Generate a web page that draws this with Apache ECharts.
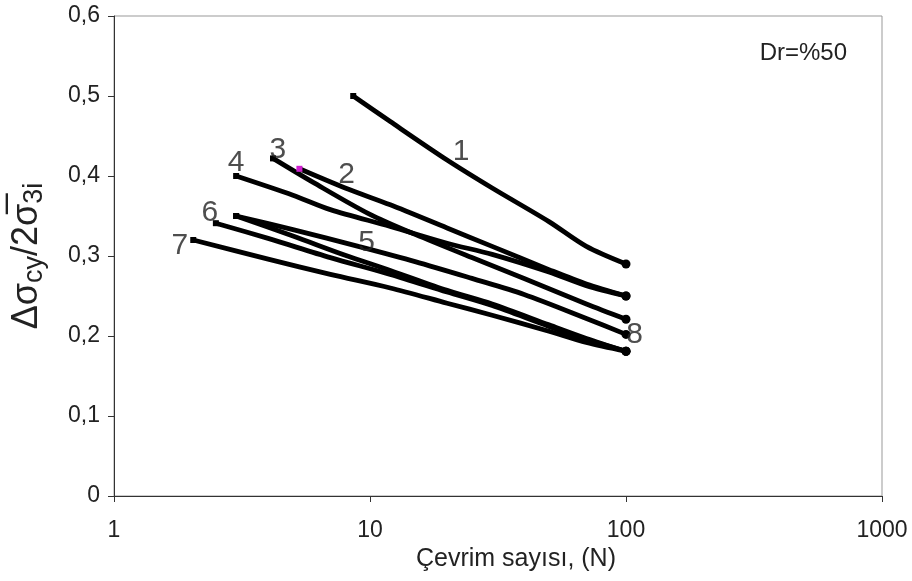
<!DOCTYPE html>
<html>
<head>
<meta charset="utf-8">
<script src="https://cdn.jsdelivr.net/npm/echarts@6/dist/echarts.min.js"></script>
<style>
  html, body { margin: 0; padding: 0; background: #fff; }
  #chart { width: 912px; height: 581px; }
</style>
</head>
<body>
<div id="chart"></div>
<script>
// Cyclic stress ratio vs. number of cycles, Dr = %50
const xTickLabels = ['1', '10', '100', '1000'];
const yTickLabels = ['0', '0,1', '0,2', '0,3', '0,4', '0,5', '0,6'];

// [N, Δσcy/2σ'3i] for each test curve
const curve1 = [[8.6, 0.500], [12, 0.468], [20, 0.420], [30, 0.385], [50, 0.343], [70, 0.312], [100, 0.290]];
const curve2 = [[5.3, 0.409], [8, 0.385], [12, 0.364], [20, 0.335], [30, 0.312], [50, 0.283], [70, 0.265], [100, 0.250]];
const curve3 = [[4.18, 0.422], [6, 0.392], [10, 0.352], [15, 0.327], [25, 0.298], [40, 0.272], [70, 0.240], [100, 0.221]];
const curve4 = [[3.0, 0.400], [5, 0.376], [7, 0.358], [12, 0.337], [20, 0.316], [30, 0.302], [50, 0.280], [70, 0.263], [100, 0.250]];
const curve5 = [[3.0, 0.350], [5, 0.333], [9, 0.312], [15, 0.293], [25, 0.272], [40, 0.252], [70, 0.222], [100, 0.202]];
const curve6 = [[2.5, 0.341], [4, 0.322], [7, 0.298], [12, 0.277], [20, 0.255], [30, 0.238], [50, 0.212], [70, 0.196], [100, 0.181]];
const curve7 = [[2.04, 0.320], [4, 0.296], [7, 0.277], [12, 0.260], [20, 0.241], [30, 0.226], [50, 0.206], [70, 0.192], [100, 0.181]];
const curve8 = [[3.0, 0.350], [5, 0.325], [8, 0.301], [12, 0.282], [20, 0.257], [30, 0.240], [50, 0.214], [70, 0.197], [100, 0.181]];
const curves = [curve1, curve2, curve3, curve4, curve5, curve6, curve7, curve8];

// Curve numbers and where they are written, in data units
const curveTags = ['1', '2', '3', '4', '5', '6', '7', '8'];
const curveTagAt = [[22.7, 0.430], [8.1, 0.401], [4.37, 0.4325], [3.0, 0.416], [9.7, 0.316], [2.37, 0.354], [1.81, 0.3125], [108, 0.201]];

const FONT = 'Liberation Sans, Arial, sans-serif';
const chart = echarts.init(document.getElementById('chart'), null, { renderer: 'canvas' });

function curveSeries(pts, i) {
  const data = pts.map((p, k) => {
    const item = { value: p };
    if (k === 0) {
      item.symbol = 'rect'; item.symbolSize = 6;
      // curve 2 begins with a magenta point marker
      if (i === 1) item.itemStyle = { color: '#d020d0' };
    } else if (k === pts.length - 1) {
      item.symbol = 'circle'; item.symbolSize = 9;
    } else {
      item.symbol = 'none';
    }
    return item;
  });
  return {
    type: 'line',
    name: 'curve' + (i + 1),
    data: data,
    symbol: 'none',
    showSymbol: true,
    smooth: 0.3,
    lineStyle: { color: '#000', width: 4.8, cap: 'round', join: 'round' },
    itemStyle: { color: '#000' },
    silent: true,
    z: 3
  };
}

const series = curves.map(curveSeries);
series.push({
  type: 'scatter',
  data: curveTagAt.map((p, i) => ({ value: p, name: curveTags[i] })),
  symbolSize: 0,
  silent: true,
  label: {
    show: true,
    position: 'inside',
    formatter: p => p.name,
    color: '#222',
    fontSize: 30,
    fontFamily: FONT
  },
  z: 5
});

chart.setOption({
  animation: false,
  backgroundColor: '#fff',
  title: {
    text: 'Dr=%50',
    right: 60,
    top: 36,
    textStyle: { fontSize: 24, fontWeight: 'normal', color: '#222', fontFamily: FONT }
  },
  grid: {
    left: 114, right: 30, top: 16, bottom: 85,
    show: true, borderColor: '#999', borderWidth: 1, backgroundColor: '#fff'
  },
  xAxis: {
    type: 'log',
    logBase: 10,
    min: 1,
    max: 1000,
    name: 'Çevrim sayısı, (N)',
    nameLocation: 'middle',
    nameGap: 50,
    nameTextStyle: { fontSize: 25, color: '#222', fontFamily: FONT, padding: [0, 0, 0, 36] },
    axisLine: { show: true, lineStyle: { color: '#333', width: 1 } },
    axisTick: { show: true, inside: false, length: 6, lineStyle: { color: '#333' } },
    minorTick: { show: false },
    splitLine: { show: false },
    axisLabel: {
      margin: 23,
      fontSize: 23,
      color: '#222',
      fontFamily: FONT,
      formatter: v => xTickLabels[Math.round(Math.log10(v))]
    }
  },
  yAxis: {
    type: 'value',
    min: 0,
    max: 0.6,
    interval: 0.1,
    name: '{m|Δσ}{s|cy}{m|/2σ̅}{s|3i}',
    nameLocation: 'middle',
    nameRotate: 90,
    nameGap: 66,
    nameTextStyle: {
      rich: {
        m: { fontSize: 36, color: '#222', fontFamily: FONT, lineHeight: 42, verticalAlign: 'middle' },
        s: { fontSize: 27, color: '#222', fontFamily: FONT, lineHeight: 42, verticalAlign: 'bottom', padding: [12, 0, 0, 0] }
      }
    },
    axisLine: { show: true, lineStyle: { color: '#333', width: 1 } },
    axisTick: { show: true, inside: false, length: 6, lineStyle: { color: '#333' } },
    splitLine: { show: false },
    axisLabel: {
      margin: 14,
      fontSize: 23,
      color: '#222',
      fontFamily: FONT,
      formatter: v => yTickLabels[Math.round(v * 10)]
    }
  },
  series: series
});
</script>
</body>
</html>
